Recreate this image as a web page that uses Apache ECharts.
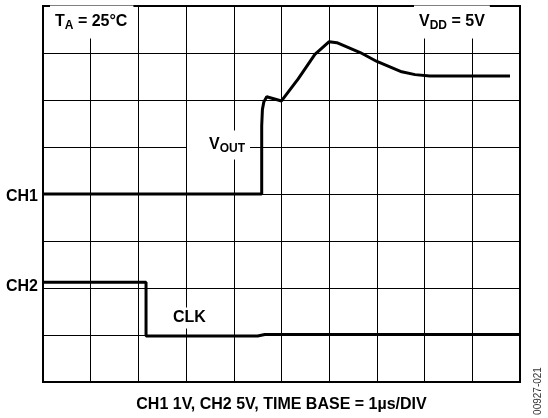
<!DOCTYPE html>
<html>
<head>
<meta charset="utf-8">
<script src="https://cdn.jsdelivr.net/npm/echarts@6/dist/echarts.min.js"></script>
<style>
    html, body {margin: 0; padding: 0; background: #fff;}
    #scope {width: 548px; height: 418px;}
</style>
</head>
<body>
<div id="scope"></div>
<script>
// time in µs (1 div = 1µs), level in divisions from the bottom of the screen
var ch1Time = [0, 4.585, 4.585, 4.6, 4.63, 4.69, 5.0, 5.35, 5.70, 6.0, 6.16, 6.65, 7.0, 7.52, 7.8, 8.11, 9.79];
var ch1Level = [4.0, 4.0, 5.45, 5.8, 5.96, 6.07, 5.98, 6.45, 6.97, 7.24, 7.22, 7.01, 6.82, 6.60, 6.54, 6.51, 6.51];
var ch2Time = [0, 2.16, 2.16, 4.5, 4.65, 10];
var ch2Level = [2.12, 2.12, 0.98, 0.98, 1.01, 1.01];

var font = '"Liberation Sans", Arial, Helvetica, sans-serif';

function pairs(xs, ys) {
    return xs.map(function (x, i) {
        return [x, ys[i]];
    });
}

// text label with a white box, subscripts drop a little
function label(x, y, text, pad, align) {
    return {
        type: 'text',
        z: 100,
        style: {
            x: x,
            y: y,
            text: text,
            align: align || 'left',
            verticalAlign: 'middle',
            backgroundColor: '#fff',
            padding: pad,
            rich: {
                a: {fontFamily: font, fontWeight: 'bold', fontSize: 16, lineHeight: 19, fill: '#000'},
                s: {fontFamily: font, fontWeight: 'bold', fontSize: 12, lineHeight: 8, verticalAlign: 'bottom', fill: '#000'}
            }
        }
    };
}

var myChart = echarts.init(document.getElementById('scope'));
var option = {
    animation: false,
    grid: {
        left: 43,
        top: 6,
        width: 477,
        height: 382,
        show: true,
        borderColor: '#000',
        borderWidth: 2
    },
    xAxis: {
        type: 'value',
        min: 0,
        max: 10,
        interval: 1,
        axisLine: {show: false},
        axisTick: {show: false},
        axisLabel: {show: false},
        splitLine: {show: true, lineStyle: {color: '#000', width: 1}},
        name: 'CH1 1V, CH2 5V, TIME BASE = 1µs/DIV',
        nameLocation: 'middle',
        nameGap: 15,
        nameTextStyle: {fontFamily: font, fontWeight: 'bold', fontSize: 16, color: '#000'}
    },
    yAxis: {
        type: 'value',
        min: 0,
        max: 8,
        interval: 1,
        axisLine: {show: false},
        axisTick: {show: false},
        axisLabel: {show: false},
        splitLine: {show: true, lineStyle: {color: '#000', width: 1}}
    },
    graphic: [
        label(50, 22, '{a|T}{s|A}{a| = 25°C}', [7, 6, 7, 5]),
        label(414, 22, '{a|V}{s|DD}{a| = 5V}', [7, 5, 7, 5]),
        label(187, 145, '{a|V}{s|OUT}', [5, 5, 5, 22]),
        label(168, 318, '{a|CLK}', [1, 5, 1, 5]),
        label(38, 197, '{a|CH1}', [0, 0, 0, 0], 'right'),
        label(38, 287, '{a|CH2}', [0, 0, 0, 0], 'right'),
        {
            type: 'text',
            x: 538,
            y: 391,
            rotation: Math.PI / 2,
            style: {
                text: '00927-021',
                align: 'center',
                verticalAlign: 'middle',
                font: '10px ' + font,
                fill: '#333'
            }
        }
    ],
    series: [
        {
            name: 'CH1',
            type: 'line',
            symbol: 'none',
            lineStyle: {color: '#000', width: 3},
            data: pairs(ch1Time, ch1Level)
        },
        {
            name: 'CH2',
            type: 'line',
            symbol: 'none',
            lineStyle: {color: '#000', width: 3},
            data: pairs(ch2Time, ch2Level)
        }
    ]
};
myChart.setOption(option);
</script>
</body>
</html>
